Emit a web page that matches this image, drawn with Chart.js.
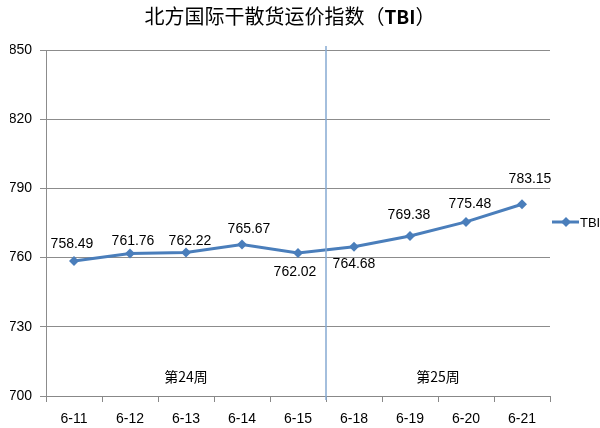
<!DOCTYPE html>
<html>
<head>
<meta charset="utf-8">
<script src="https://cdn.jsdelivr.net/npm/chart.js@4/dist/chart.umd.min.js"></script>
<style>
  html, body { margin: 0; padding: 0; background: #fff; }
  #wrap { width: 600px; height: 428px; position: relative; }
</style>
</head>
<body>
<div id="wrap"><canvas id="c"></canvas></div>
<script>
const labels = ["6-11", "6-12", "6-13", "6-14", "6-15", "6-18", "6-19", "6-20", "6-21"];
const tbi = [758.49, 761.76, 762.22, 765.67, 762.02, 764.68, 769.38, 775.48, 783.15];
const weekNames = ["第24周", "第25周"];
const weekSplit = 5; // first index of second week
const yTicks = [700, 730, 760, 790, 820, 850];

// where each value label sits relative to its point (dx, dy in px)
const labelDx = [-2, 3, 4, 7, -3, 0, -1, 4, 8];
const labelDy = [-17, -12, -11, -15, 19, 17, -21, -18, -25];

const blue = "#4A7EBB";
const font = "'Liberation Sans', 'Noto Sans CJK SC', sans-serif";
const cjk = "'Noto Sans CJK SC', sans-serif";

const extras = {
  id: "extras",
  afterDatasetsDraw(chart) {
    const ctx = chart.ctx;
    const x = chart.scales.x;
    const area = chart.chartArea;
    const meta = chart.getDatasetMeta(0);

    ctx.save();

    // title, "TBI" part in bold
    const t1 = "北方国际干散货运价指数（";
    const t2 = "TBI";
    const t3 = "）";
    ctx.textBaseline = "middle";
    ctx.fillStyle = "#000";
    ctx.font = "20px " + cjk;
    const w1 = ctx.measureText(t1).width;
    const w3 = ctx.measureText(t3).width;
    ctx.font = "bold 19px " + cjk;
    const w2 = ctx.measureText(t2).width;
    let tx = 290 - (w1 + w2 + w3) / 2;
    ctx.textAlign = "left";
    ctx.font = "20px " + cjk;
    ctx.fillText(t1, tx, 16);
    ctx.font = "bold 19px " + cjk;
    ctx.fillText(t2, tx + w1, 17);
    ctx.font = "20px " + cjk;
    ctx.fillText(t3, tx + w1 + w2, 16);

    // week separator
    const sx = (x.getPixelForValue(weekSplit - 1) + x.getPixelForValue(weekSplit)) / 2;
    ctx.strokeStyle = "#86AAD2";
    ctx.lineWidth = 1.5;
    ctx.beginPath();
    ctx.moveTo(sx, area.top - 4);
    ctx.lineTo(sx, area.bottom + 4);
    ctx.stroke();

    // week names
    ctx.fillStyle = "#000";
    ctx.font = "14px " + cjk;
    ctx.textAlign = "center";
    const c1 = (x.getPixelForValue(0) + x.getPixelForValue(weekSplit - 1)) / 2;
    const c2 = (x.getPixelForValue(weekSplit) + x.getPixelForValue(labels.length - 1)) / 2;
    ctx.fillText(weekNames[0], c1, area.bottom - 19);
    ctx.fillText(weekNames[1], c2, area.bottom - 19);

    // value labels
    ctx.font = "14px " + font;
    meta.data.forEach((pt, i) => {
      ctx.fillText(tbi[i].toFixed(2), pt.x + labelDx[i], pt.y + labelDy[i]);
    });

    // legend
    const ly = (area.top + area.bottom) / 2 - 1;
    const lx = area.right + 2;
    ctx.strokeStyle = blue;
    ctx.lineWidth = 3;
    ctx.beginPath();
    ctx.moveTo(lx, ly);
    ctx.lineTo(lx + 27, ly);
    ctx.stroke();
    ctx.fillStyle = blue;
    ctx.beginPath();
    ctx.moveTo(lx + 14, ly - 5);
    ctx.lineTo(lx + 19, ly);
    ctx.lineTo(lx + 14, ly + 5);
    ctx.lineTo(lx + 9, ly);
    ctx.closePath();
    ctx.fill();
    ctx.fillStyle = "#000";
    ctx.font = "13px " + font;
    ctx.textAlign = "left";
    ctx.fillText(chart.data.datasets[0].label, lx + 28, ly + 1);
    ctx.restore();
  }
};

new Chart(document.getElementById("c"), {
  type: "line",
  data: {
    labels: labels,
    datasets: [{
      label: "TBI",
      data: tbi,
      borderColor: blue,
      backgroundColor: blue,
      borderWidth: 3,
      pointStyle: "rectRot",
      pointRadius: 5,
      pointBackgroundColor: blue,
      pointBorderWidth: 0,
      tension: 0
    }]
  },
  options: {
    responsive: true,
    maintainAspectRatio: false,
    animation: false,
    layout: { padding: { top: 50, right: 50, bottom: 0, left: 10 } },
    plugins: {
      legend: { display: false },
      tooltip: { enabled: false },
      title: { display: false }
    },
    scales: {
      x: {
        offset: true,
        afterFit: (axis) => { axis.height = 32; },
        grid: {
          offset: true,
          drawOnChartArea: false,
          color: "#888",
          tickLength: 6
        },
        border: { color: "#888" },
        ticks: { color: "#000", font: { family: font, size: 14 }, padding: 9, maxRotation: 0 }
      },
      y: {
        min: 700,
        max: 850,
        afterFit: (axis) => { axis.width = 36; },
        afterBuildTicks: (axis) => { axis.ticks = yTicks.map(v => ({ value: v })); },
        grid: { color: "#8c8c8c", tickLength: 6 },
        border: { color: "#8c8c8c" },
        ticks: { color: "#000", font: { family: font, size: 14 }, padding: 8 }
      }
    }
  },
  plugins: [extras]
});
</script>
</body>
</html>
